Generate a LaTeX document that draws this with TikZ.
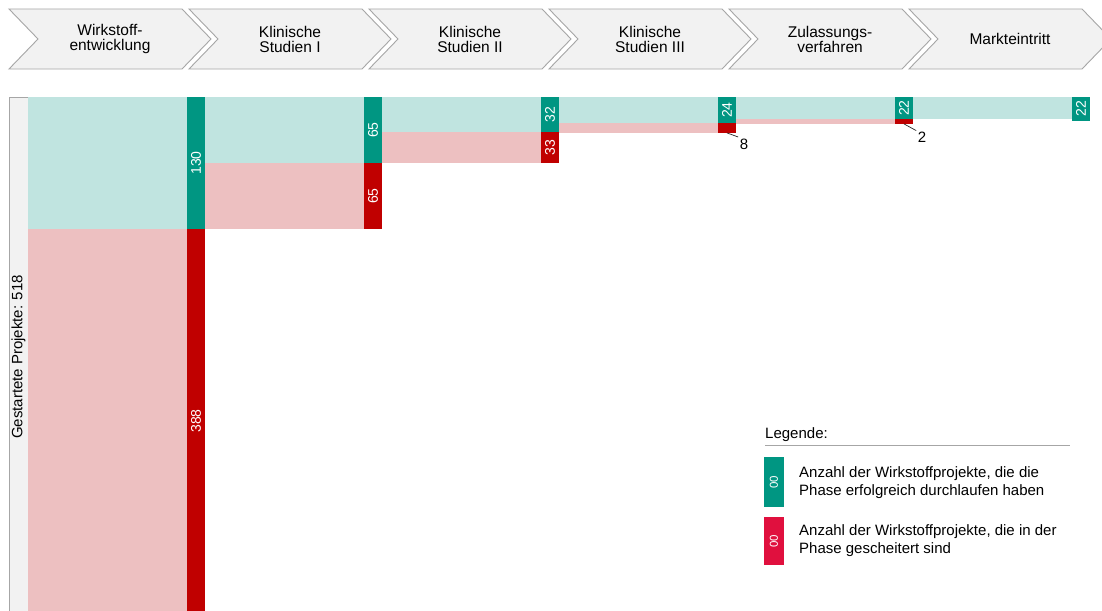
\documentclass[tikz,border=0pt]{standalone}
\usepackage{fontspec}
\setmainfont{Liberation Sans}
\definecolor{chevfill}{HTML}{F2F2F2}
\definecolor{chevline}{HTML}{A6A6A6}
\definecolor{okdark}{RGB}{0,150,130}
\definecolor{oklight}{RGB}{192,228,224}
\definecolor{faildark}{HTML}{C00000}
\definecolor{faillight}{RGB}{237,192,193}
\definecolor{failkey}{RGB}{224,16,62}
\begin{document}
\begin{tikzpicture}[x=1pt,y=-1pt,
  chev/.style={fill=chevfill,draw=chevline,line width=0.9pt,line join=miter},
  chevtext/.style={align=center,font=\fontsize{15.5}{15}\selectfont,inner sep=0pt},
  okbar/.style={fill=okdark,rotate=90,minimum height=18pt,inner sep=0pt,
    text=white,font=\fontsize{14}{14}\selectfont},
  failbar/.style={fill=faildark,rotate=90,minimum height=18pt,inner sep=0pt,
    text=white,font=\fontsize{14}{14}\selectfont},
  outlabel/.style={font=\fontsize{15}{15}\selectfont,inner sep=1.5pt},
  leader/.style={draw=black!85,line width=0.7pt},
  keybox/.style={rotate=90,minimum width=50pt,minimum height=20pt,inner sep=0pt,
    text=white,font=\fontsize{11.5}{11.5}\selectfont},
  keytext/.style={anchor=west,align=left,inner sep=0pt,
    font=\fontsize{15}{18}\selectfont}
]
\clip (0,0) rectangle (1102,610);
\fill[white] (0,0) rectangle (1102,610);

% phase chevrons
\foreach \i/\t in {0/{Wirkstoff-\\entwicklung},1/{Klinische\\Studien I},
  2/{Klinische\\Studien II},3/{Klinische\\Studien III},
  4/{Zulassungs-\\verfahren},5/{Markteintritt}}{
  \pgfmathsetmacro\L{9+180*\i}
  \draw[chev] (\L,9) -- ++(173,0) -- ++(29,30) -- ++(-29,30) -- ++(-173,0)
    -- ++(29,-30) -- cycle;
  \node[chevtext] (ph\i) at (\L+101,39) {\t};
}

% started projects
\node[fill=chevfill,draw=chevline,line width=0.9pt,minimum width=19pt,
  minimum height=526pt,inner sep=0pt] (start) at (18.5,360) {};
\node[rotate=90,font=\fontsize{15}{15}\selectfont] at (18.5,357)
  {Gestartete Projekte: 518};

% light areas per phase: passed (green) and failed (red)
\fill[oklight]   (28,97)   rectangle (187,229);
\fill[faillight] (28,229)  rectangle (187,623);
\fill[oklight]   (205,97)  rectangle (364,163);
\fill[faillight] (205,163) rectangle (364,229);
\fill[oklight]   (382,97)  rectangle (541,132);
\fill[faillight] (382,132) rectangle (541,163);
\fill[oklight]   (559,97)  rectangle (718,123.3);
\fill[faillight] (559,123.3) rectangle (718,132.7);
\fill[oklight]   (736,97)  rectangle (895,119);
\fill[faillight] (736,119) rectangle (895,123.7);
\fill[oklight]   (913,97)  rectangle (1072,119);

% count bars
\node[okbar,minimum width=132pt]   (g1) at (196,163)    {130};
\node[failbar,minimum width=384pt] (r1) at (196,421)    {388};
\node[okbar,minimum width=66pt]    (g2) at (373,130)    {65};
\node[failbar,minimum width=66pt]  (r2) at (373,196)    {65};
\node[okbar,minimum width=35pt]    (g3) at (550,114.5)  {32};
\node[failbar,minimum width=31pt]  (r3) at (550,147.5)  {33};
\node[okbar,minimum width=26.3pt]  (g4) at (727,110.15) {24};
\node[failbar,minimum width=9.4pt] (r4) at (727,128)    {};
\node[okbar,minimum width=22pt]    (g5) at (904,108)    {22};
\node[failbar,minimum width=4.7pt] (r5) at (904,121.35) {};
\node[okbar,minimum width=23.5pt]  (g6) at (1081,108.75) {22};

% labels of the small bars
\node[outlabel] (l8) at (744,144) {8};
\node[outlabel] (l2) at (922,137.5) {2};
\draw[leader] (r4.west) -- (l8.north west);
\draw[leader] (r5.west) -- (l2.north west);

% legend
\node[anchor=west,inner sep=0pt,font=\fontsize{15}{15}\selectfont]
  (leg) at (765,435) {Legende:};
\coordinate (legl) at (765,445);
\coordinate (legr) at (1070,445);
\draw[chevline,line width=0.9pt] (legl) -- (legr);
\node[keybox,fill=okdark] (kok) at (774,482) {00};
\node[keytext] (tok) at (799,482.5)
  {Anzahl der Wirkstoffprojekte, die die\\Phase erfolgreich durchlaufen haben};
\node[keybox,fill=failkey,minimum width=48pt] (kfail) at (774,541) {00};
\node[keytext] (tfail) at (799,540.5)
  {Anzahl der Wirkstoffprojekte, die in der\\Phase gescheitert sind};
\end{tikzpicture}
\end{document}
